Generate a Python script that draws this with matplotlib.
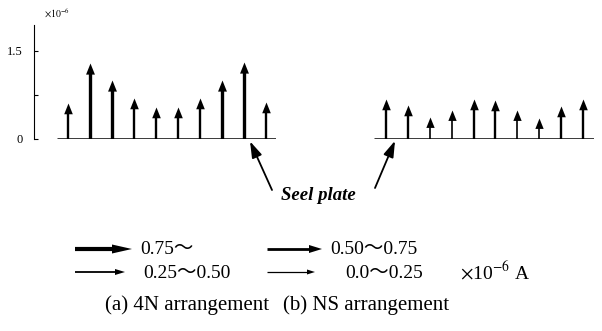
import numpy as np
import matplotlib.pyplot as plt
from matplotlib.path import Path
from matplotlib.patches import Polygon

plt.rcParams['font.family'] = ['Liberation Serif', 'Noto Sans CJK JP']
plt.rcParams['mathtext.fontset'] = 'stix'
plt.rcParams['font.size'] = 11

# induced current at each position (x10^-6 A)
pos = np.arange(10)
cur_4n = [0.61, 1.30, 1.01, 0.70, 0.55, 0.55, 0.70, 1.01, 1.31, 0.63]
cur_ns = [0.68, 0.58, 0.37, 0.49, 0.68, 0.67, 0.49, 0.36, 0.56, 0.68]

bins = [0.75, 0.50, 0.25, 0.0]
bin_labels = ['0.75～', '0.50～0.75', '0.25～0.50', '0.0～0.25']
bin_lw = [2.4, 1.7, 1.2, 0.8]
bin_head = [16, 15.5, 15, 14]
leg_lw = [3.0, 2.0, 1.3, 0.9]
leg_head = [(20, 9), (13, 8), (10, 6), (8, 5)]  # length, width in px

captions = ['(a) 4N arrangement', '(b) NS arrangement']

W, H = 602, 331
fig = plt.figure(figsize=(W / 100, H / 100), dpi=100)

# triangle head with the tip at the marker origin
up_head = Path([(0, 0), (-0.4, -1), (0.4, -1), (0, 0)], closed=True)


def cat(v):
    for i, b in enumerate(bins):
        if v >= b:
            return i
    return len(bins) - 1


ymax = 1.94
axh = 114  # axes height in px
px2y = ymax / axh


def draw_panel(ax, vals):
    for x, v in zip(pos, vals):
        i = cat(v)
        hh = bin_head[i] * 0.5 * 100 / 72 * px2y
        ax.vlines(x, 0, v - 0.6 * hh, color='black', lw=bin_lw[i])
        ax.plot(x, v, marker=up_head, ms=bin_head[i], color='black', mew=0, clip_on=False)


# left panel
ax1 = fig.add_axes([34 / W, 1 - 139 / H, (276 - 34) / W, axh / H])
ax1.set_xlim(-1.545, 9.45)
ax1.set_ylim(0, ymax)
for s in ['top', 'right', 'bottom']:
    ax1.spines[s].set_visible(False)
ax1.spines['left'].set_linewidth(0.8)
ax1.set_xticks([])
ax1.set_yticks([0, 0.75, 1.5])
ax1.set_yticklabels(['0', '', '1.5'])
ax1.tick_params(axis='y', direction='in', length=3, pad=8, labelsize=9)
ax1.hlines(0, -0.5, 9.45, color='black', lw=1.8)
draw_panel(ax1, cur_4n)
ax1.text(0.04, 1.04, r'$\times10^{-6}$', transform=ax1.transAxes, fontsize=7,
         ha='left', va='bottom')

# right panel
ax2 = fig.add_axes([374 / W, 1 - 139 / H, (594 - 374) / W, axh / H])
ax2.set_xlim(-0.55, 9.5)
ax2.set_ylim(0, ymax)
ax2.axis('off')
ax2.hlines(0, -0.55, 9.5, color='black', lw=1.8)
draw_panel(ax2, cur_ns)

# seel plate pointers
ptr = dict(arrowstyle='-|>,head_length=0.75,head_width=0.24',
           lw=1.3, color='black', shrinkA=0, shrinkB=0, mutation_scale=13)
ax1.annotate('', xy=(8.27, -0.04), xytext=(272 / W, 1 - 190 / H),
             xycoords='data', textcoords='figure fraction', annotation_clip=False,
             arrowprops=ptr)
ax2.annotate('', xy=(0.41, -0.03), xytext=(375 / W, 1 - 188 / H),
             xycoords='data', textcoords='figure fraction', annotation_clip=False,
             arrowprops=ptr)
fig.text(318 / W, 1 - 196 / H, 'Seel plate', ha='center', va='center',
         fontsize=13.5, style='italic', weight='bold')

# legend (overlay axes in pixel units)
lax = fig.add_axes([0, 0, 1, 1])
lax.set_xlim(0, W)
lax.set_ylim(H, 0)
lax.axis('off')
items = [(249, 75, 132, 140), (249, 267, 322, 330),
         (272, 75, 125, 143), (272, 267, 315, 345)]
for (y, x0, x1, xt), lab, w, (hl, hw) in zip(items, bin_labels, leg_lw, leg_head):
    lax.hlines(y, x0, x1 - hl + 1, color='black', lw=w)
    lax.add_patch(Polygon([(x1, y), (x1 - hl, y - hw / 2), (x1 - hl, y + hw / 2)],
                          closed=True, color='black', lw=0))
    lax.text(xt, y + 1, lab, ha='left', va='center', fontsize=14)
lax.text(460, 272, r'$\times$10$^{-6}$ A', ha='left', va='center', fontsize=14)

lax.text(187, 305, captions[0], ha='center', va='center', fontsize=15)
lax.text(366, 305, captions[1], ha='center', va='center', fontsize=15)

fig.savefig('out.png', dpi=100)
